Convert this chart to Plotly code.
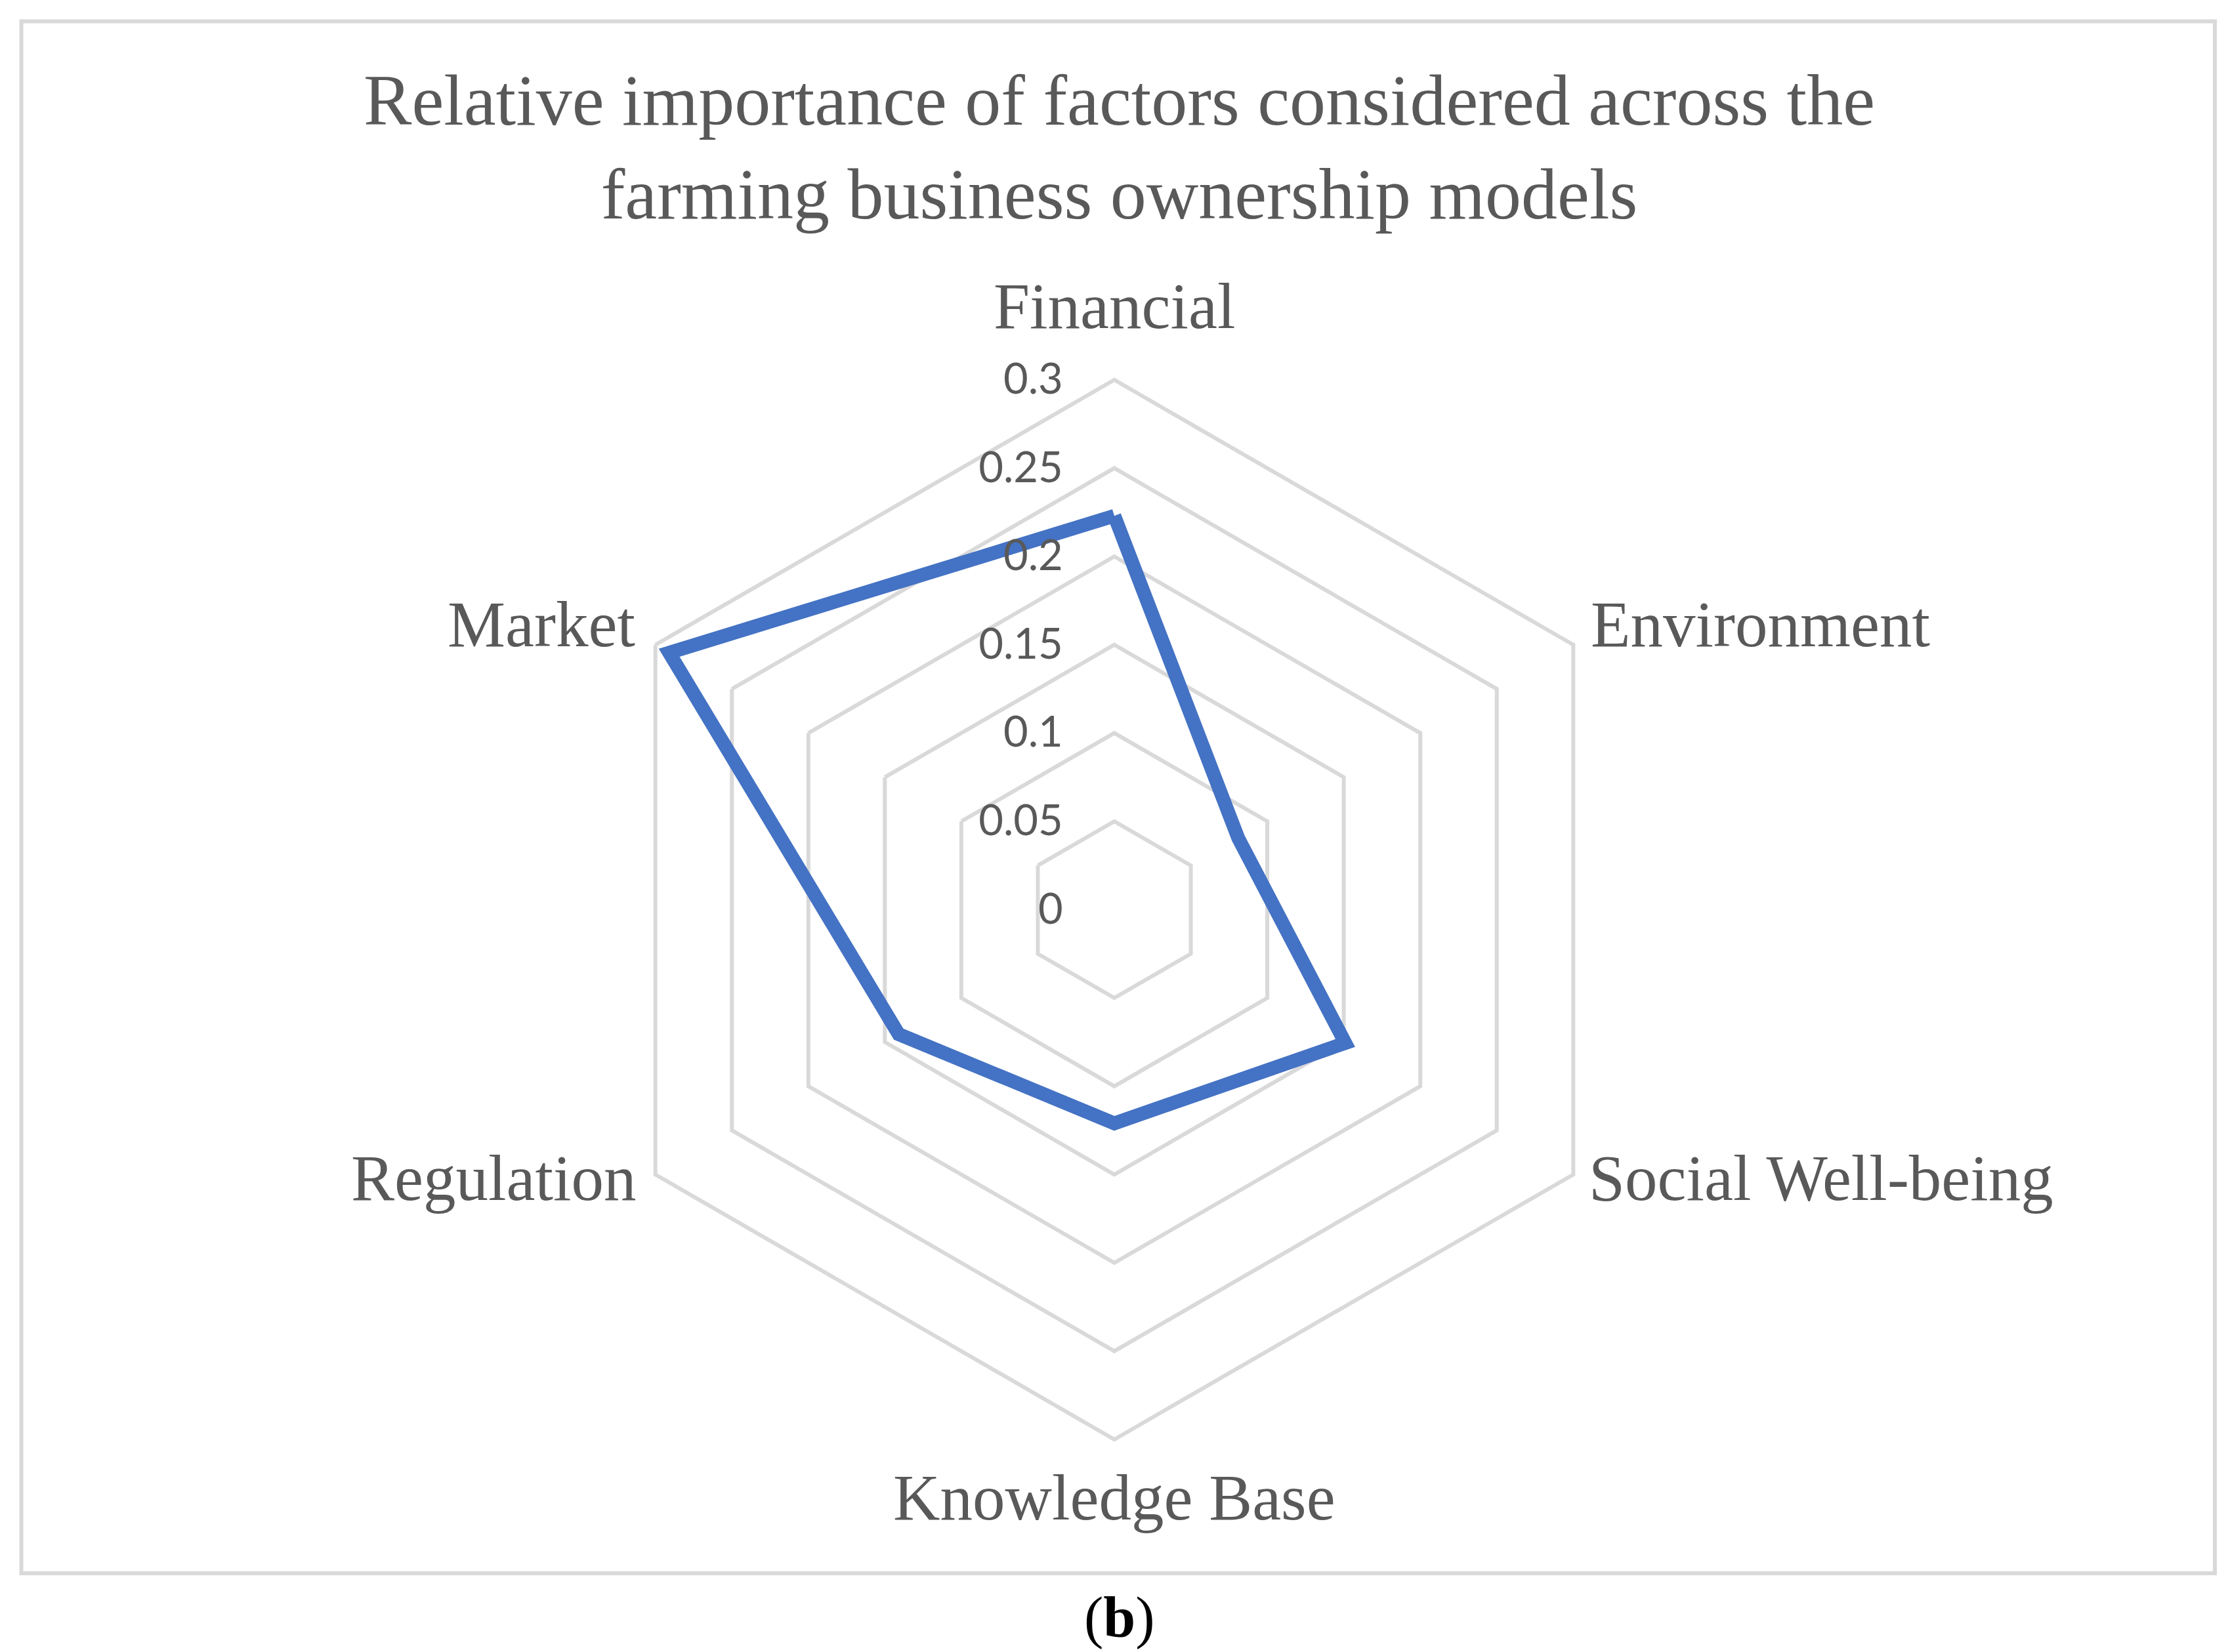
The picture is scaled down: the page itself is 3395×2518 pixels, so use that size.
import math
import plotly.graph_objects as go

categories = ["Financial", "Environment", "Social Well-being", "Knowledge Base", "Regulation", "Market"]
importance = [0.223, 0.081, 0.151, 0.121, 0.141, 0.291]
radial_ticks = [0, 0.05, 0.1, 0.15, 0.2, 0.25, 0.3]

W, H = 3395, 2518
cx, cy, R = 1690, 1378.5, 807.5

TEXT = "#595959"
GRID = "#D9D9D9"
BLUE = "#4472C4"
SERIF = "Liberation Serif"
SANS = "Lato"

# label placement relative to each outer-hexagon vertex: (dx, dy, xanchor)
label_style = [
    (0, -113, "center"),
    (25, -31, "left"),
    (22, 5, "left"),
    (0, 88, "center"),
    (-28, 5, "right"),
    (-29, -31, "right"),
]

fig = go.Figure()
fig.add_trace(go.Scatterpolar(
    r=importance + importance[:1],
    theta=categories + categories[:1],
    mode="lines",
    line=dict(color=BLUE, width=21),
    hoverinfo="skip",
    showlegend=False,
))

annotations = []
n = len(categories)
for i, (cat, (dx, dy, xa)) in enumerate(zip(categories, label_style)):
    ang = 2 * math.pi * i / n
    vx = cx + R * math.sin(ang)
    vy = cy - R * math.cos(ang)
    annotations.append(dict(
        text=cat, xref="paper", yref="paper",
        x=(vx + dx) / W, y=1 - (vy + dy) / H,
        xanchor=xa, yanchor="middle", showarrow=False,
        font=dict(family=SERIF, size=99, color=TEXT),
    ))

annotations.append(dict(
    text="(<b>b</b>)", xref="paper", yref="paper",
    x=0.5, y=1 - 2457 / H, xanchor="center", yanchor="middle",
    showarrow=False, font=dict(family=SERIF, size=88, color="black"),
))

fig.update_layout(
    width=W, height=H,
    margin=dict(l=0, r=0, t=0, b=0),
    paper_bgcolor="white",
    plot_bgcolor="white",
    title=dict(
        text="Relative importance of factors considered across the<br>farming business ownership models",
        font=dict(family=SERIF, size=110, color=TEXT),
        x=0.5, xanchor="center",
        y=1 - 182 / H, yanchor="middle",
        yref="container",
    ),
    polar=dict(
        bgcolor="white",
        gridshape="linear",
        domain=dict(x=[(cx - R) / W, (cx + R) / W], y=[(H - cy - R) / H, (H - cy + R) / H]),
        radialaxis=dict(
            range=[0, 0.3],
            tickvals=radial_ticks,
            ticktext=[f"{v:g}" for v in radial_ticks],
            angle=90,
            tickangle=90,
            side="counterclockwise",
            showline=False,
            showgrid=True,
            gridcolor=GRID,
            gridwidth=6,
            ticks="outside",
            ticklen=55,
            tickcolor="rgba(0,0,0,0)",
            tickfont=dict(family=SANS, size=65, color=TEXT),
        ),
        angularaxis=dict(
            categoryorder="array",
            categoryarray=categories,
            direction="clockwise",
            rotation=90,
            showgrid=False,
            showline=True,
            linecolor=GRID,
            linewidth=6,
            ticks="",
            showticklabels=False,
        ),
    ),
    shapes=[dict(
        type="rect", xref="paper", yref="paper",
        x0=24.5 / W, x1=3367 / W, y0=1 - 2390 / H, y1=1 - 24.5 / H,
        line=dict(color=GRID, width=6), fillcolor="rgba(0,0,0,0)", layer="below",
    )],
    annotations=annotations,
)

fig.write_html("out.html")
